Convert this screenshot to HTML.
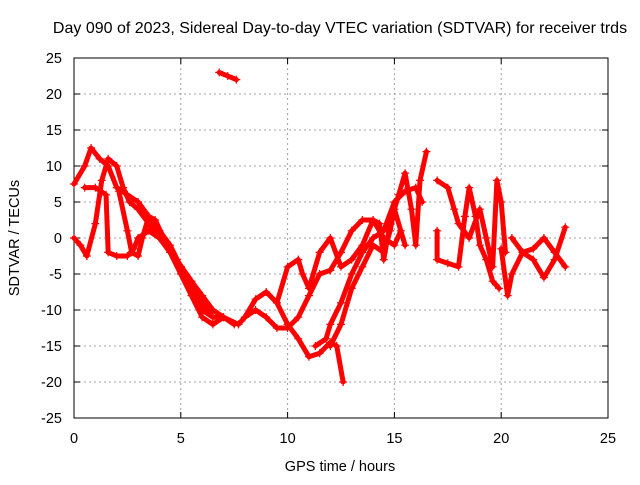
<!DOCTYPE html>
<html><head><meta charset="utf-8"><style>
body{margin:0;background:#fff;}
svg{font-family:"Liberation Sans",sans-serif;}
</style></head><body>
<svg id="chart" width="640" height="480" viewBox="0 0 640 480">
<text x="340" y="33" font-size="16" text-anchor="middle" fill="#000">Day 090 of 2023, Sidereal Day-to-day VTEC variation (SDTVAR) for receiver trds</text>
<g id="grid"></g>
<g id="axes"></g>
<g id="series"></g>
<text x="340" y="471" font-size="14.5" text-anchor="middle">GPS time / hours</text>
<text transform="translate(19,238) rotate(-90)" font-size="14.5" text-anchor="middle">SDTVAR / TECUs</text>
</svg>
<script>
const xTicks=[0,5,10,15,20,25];
const yTicks=[-25,-20,-15,-10,-5,0,5,10,15,20,25];
const traceA=[[0,7.5],[0.5,10],[0.8,12.5],[1.2,11],[1.6,10],[2,7],[2.5,6],[3,5],[3.5,3],[4,1],[4.5,-1],[5,-4],[5.5,-7],[6,-10],[6.5,-11],[7,-11],[7.5,-12]];
const traceB=[[0,0],[0.3,-1],[0.6,-2.5],[1,2],[1.3,8],[1.6,11],[2,10],[2.3,7],[2.6,5],[3,4],[3.5,2],[4,0],[4.5,-2],[5,-5],[5.5,-8],[6,-11],[6.5,-12],[7,-11],[7.7,-12],[8,-11],[8.5,-8.5],[9,-7.5],[9.5,-9],[10,-12],[10.5,-14],[11,-16.5],[11.5,-16],[12,-14.5],[12.3,-15],[12.6,-20]];
const traceC=[[0.5,7],[1,7],[1.5,6],[1.6,-2],[2,-2.5],[2.5,-2.5],[2.8,-1.5],[3,0],[3.5,1],[4,0],[4.5,-1.5],[5,-4],[5.5,-6],[6,-8],[6.5,-10],[7,-11]];
const traceD=[[2.1,6.5],[2.5,1],[2.7,-2],[3,-2.5],[3.2,0],[3.5,3],[3.8,2.5],[4.2,0],[4.8,-3],[5.5,-6],[6,-9],[6.5,-11]];
const traceE=[[8,-11],[8.5,-10],[9,-11],[9.5,-12.5],[10,-12.5],[10.5,-11],[11,-8],[11.5,-5],[12,-4.5],[12.5,-2],[13,1],[13.5,2.5],[14,2.5],[14.5,0],[15,-1],[15.3,1]];
const traceF=[[9.5,-9],[10,-4],[10.5,-3],[10.7,-5],[11,-7],[11.5,-2],[12,0],[12.5,-4],[13,-3],[13.5,-1],[14,2.5],[14.3,2],[14.5,-3],[14.8,2],[15.2,6],[15.5,9],[15.8,4],[16,-1],[16.2,8],[16.5,12]];
const traceG=[[11.3,-15],[11.8,-14],[12,-12],[12.5,-9],[13,-5],[13.5,-2],[14,0],[14.5,1],[15,5],[15.5,6.5],[16,7],[16.3,5]];
const traceH=[[12,-15],[12.5,-12],[13,-7],[13.5,-4],[14,-1],[14.5,-2],[14.8,1],[15,4],[15.5,-1]];
const traceI=[[17,1],[17,-3],[17.5,-3.5],[18,-4],[18.3,3],[18.5,7],[18.8,3],[19,-1],[19.3,-3],[19.6,-6],[19.9,-7]];
const traceJ=[[17,8],[17.5,7],[17.8,4],[18,2],[18.5,0],[19,4],[19.3,0],[19.6,-4],[19.8,8],[20,5],[20.2,-2]];
const traceK=[[20,-1.5],[20.3,-8],[20.5,-5],[21,-2],[21.5,-1.5],[22,0],[22.5,-2],[23,-4]];
const traceL=[[20.5,0],[21,-2],[21.5,-3],[22,-5.5],[22.5,-3],[23,1.5]];
const traceM=[[6.8,23],[7.2,22.5],[7.6,22]];
const traces=[traceA,traceB,traceC,traceD,traceE,traceF,traceG,traceH,traceI,traceJ,traceK,traceL,traceM];

const X0=74,X1=608,Y0=418,Y1=58;
const sx=v=>X0+(v-0)/25*(X1-X0);
const sy=v=>Y0-(v+25)/50*(Y0-Y1);
const NS="http://www.w3.org/2000/svg";
function mk(tag,attrs,parent){const e=document.createElementNS(NS,tag);for(const k in attrs)e.setAttribute(k,attrs[k]);parent.appendChild(e);return e;}
const grid=document.getElementById('grid'),axes=document.getElementById('axes'),ser=document.getElementById('series');
xTicks.forEach(t=>{
  const x=sx(t);
  if(t>0&&t<25){const g=mk('line',{x1:x,x2:x,y1:Y1,y2:Y0,stroke:'#a0a0a0','stroke-dasharray':'2,3','stroke-width':1},grid);
  
  }
  mk('line',{x1:x,x2:x,y1:Y0,y2:Y0-6,stroke:'#000'},axes);
  mk('line',{x1:x,x2:x,y1:Y1,y2:Y1+6,stroke:'#000'},axes);
  const l=mk('text',{x:x,y:Y0+25,'font-size':14.5,'text-anchor':'middle'},axes);l.textContent=t;
  
  
});
yTicks.forEach(t=>{
  const y=sy(t);
  if(t>-25&&t<25){const g=mk('line',{x1:X0,x2:X1,y1:y,y2:y,stroke:'#a0a0a0','stroke-dasharray':'2,3','stroke-width':1},grid);
  
  }
  mk('line',{x1:X0,x2:X0+6,y1:y,y2:y,stroke:'#000'},axes);
  mk('line',{x1:X1,x2:X1-6,y1:y,y2:y,stroke:'#000'},axes);
  const l=mk('text',{x:X0-12,y:y+5,'font-size':14.5,'text-anchor':'end'},axes);l.textContent=t;
  
  
});
const fr=mk('rect',{x:X0,y:Y1,width:X1-X0,height:Y0-Y1,fill:'none',stroke:'#000'},axes);


traces.forEach(tr=>{
  const p=mk('polyline',{points:tr.map(d=>sx(d[0])+','+sy(d[1])).join(' '),fill:'none',stroke:'#ff0000','stroke-width':5,'stroke-linejoin':'round','stroke-linecap':'round'},ser);
  
  
  tr.forEach(d=>{
    const x=sx(d[0]),y=sy(d[1]);
    const m=mk('path',{d:`M${x-4},${y}H${x+4}M${x},${y-4}V${y+4}`,stroke:'#ff0000','stroke-width':1.2},ser);
    
    
  });
});
</script>
</body></html>
